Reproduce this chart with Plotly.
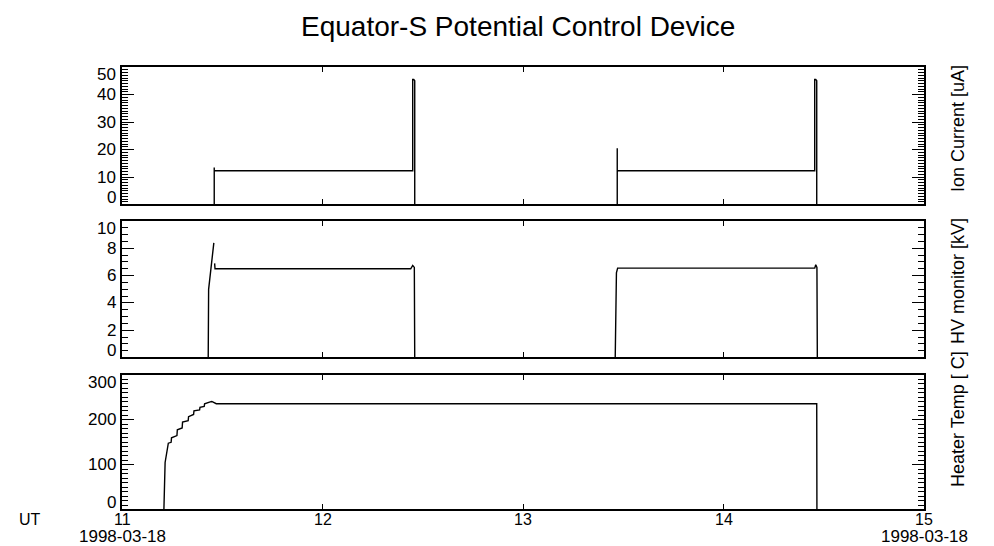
import plotly.graph_objects as go

# ---------------- data ----------------
# Ion current [uA]
ion_t = [11.00, 11.460, 11.460, 11.460, 12.450, 12.450, 12.455, 12.460, 12.460,
         13.470, 13.470, 13.470, 14.455, 14.455, 14.460, 14.465, 14.465, 15.00]
ion_v = [0, 0, 13.5, 12.3, 12.3, 45.5, 45.5, 45.0, 0,
         0, 20.5, 12.3, 12.3, 45.5, 45.5, 45.0, 0, 0]

# HV monitor [kV]
hv_t = [11.00, 11.430, 11.432, 11.458, None, 11.462, 11.464, 12.440, 12.450, 12.458, 12.460,
        13.460, 13.462, 13.466, 13.472, 14.455, 14.460, 14.466, 14.468, 15.00]
hv_v = [0, 0, 5.0, 8.4, None, 6.9, 6.5, 6.5, 6.75, 6.6, 0,
        0, 5.2, 6.2, 6.55, 6.55, 6.8, 6.6, 0, 0]

# Heater temperature [C]
heat_t = [11.00, 11.209, 11.215, 11.229, 11.231, 11.245, 11.247, 11.274, 11.276, 11.300,
          11.302, 11.330, 11.332, 11.357, 11.359, 11.387, 11.389, 11.410, 11.412, 11.440,
          11.448, 11.470, 14.465, 14.466, 15.00]
heat_v = [0, 0, 105, 138, 148, 150, 160, 165, 178, 182,
          195, 198, 207, 212, 220, 222, 228, 230, 236, 240,
          241, 236, 236, 0, 0]

x_ticks = [11, 12, 13, 14, 15]
x_ticktext = ["11", "12", "13", "14", "15"]
date_label = "1998-03-18"

ion_ticks = [0, 10, 20, 30, 40, 50]
hv_ticks = [0, 2, 4, 6, 8, 10]
heat_ticks = [0, 100, 200, 300]

panel_titles = ["Ion Current [uA]", "HV monitor [kV]", "Heater Temp [ C]"]
title = "Equator-S Potential Control Device"

# ---------------- figure ----------------
# page is offset by the default 8px body margin -> figure coords = page coords - 8
OFF = 8
W, H = 994 - OFF, 546 - OFF
ML = 122 - OFF
MR = W - (924 - OFF)
MT = 67 - OFF
MB = H - (509 - OFF)
plot_w = W - ML - MR
plot_h = H - MT - MB


def fy(page_y):
    return (H - MB - (page_y - OFF)) / plot_h


def fx(page_x):
    return ((page_x - OFF) - ML) / plot_w


domains = [
    [fy(204), 1.0],
    [fy(357), fy(221)],
    [0.0, fy(375)],
]

fig = go.Figure()
line = dict(color="black", width=1.4)
fig.add_trace(go.Scatter(x=ion_t, y=ion_v, mode="lines", line=line, xaxis="x", yaxis="y",
                         showlegend=False, connectgaps=False, cliponaxis=False))
fig.add_trace(go.Scatter(x=hv_t, y=hv_v, mode="lines", line=line, xaxis="x2", yaxis="y2",
                         showlegend=False, connectgaps=False, cliponaxis=False))
fig.add_trace(go.Scatter(x=heat_t, y=heat_v, mode="lines", line=line, xaxis="x3", yaxis="y3",
                         showlegend=False, cliponaxis=False))

font_family = "Liberation Sans, Arial, Helvetica, sans-serif"


def xaxis(anchor):
    return dict(
        domain=[0, 1], anchor=anchor, range=[11, 15],
        tickvals=x_ticks, showticklabels=False,
        ticks="inside", ticklen=5, tickwidth=1.2, tickcolor="black",
        showline=True, linecolor="black", linewidth=1.6, mirror="ticks",
        showgrid=False, zeroline=False,
    )


def y_range(top):
    # put the zero level onto the (outside-drawn) bottom axis line
    return [top * 0.6 / 136, top]


def yaxis(anchor, dom, top, ticks, minor_dt):
    return dict(
        domain=dom, anchor=anchor, range=y_range(top), tickvals=ticks, showticklabels=False,
        ticks="inside", ticklen=12, tickwidth=1.2, tickcolor="black",
        minor=dict(ticks="inside", ticklen=6, tickwidth=1, tickcolor="black", dtick=minor_dt,
                   tick0=0, showgrid=False),
        showline=True, linecolor="black", linewidth=1.6, mirror="ticks",
        showgrid=False, zeroline=False,
    )


fig.update_layout(
    width=W, height=H,
    margin=dict(l=ML, r=MR, t=MT, b=MB),
    paper_bgcolor="white", plot_bgcolor="white",
    font=dict(family=font_family, color="black"),
    xaxis=xaxis("y"),
    xaxis2=xaxis("y2"),
    xaxis3=xaxis("y3"),
    yaxis=yaxis("x", domains[0], ion_ticks[-1], ion_ticks, 1),
    yaxis2=yaxis("x2", domains[1], hv_ticks[-1], hv_ticks, 0.5),
    yaxis3=yaxis("x3", domains[2], heat_ticks[-1], heat_ticks, 10),
)

ann = []
tickfont = dict(family=font_family, size=17, color="black")


def add_ylabels(yref, vals):
    lo, hi = y_range(vals[-1])
    n = len(vals)
    for i, v in enumerate(vals):
        shift = 0
        if i == 0:
            shift = 7
        elif i == n - 1:
            shift = -7
        ann.append(dict(x=0, xref="paper", y=(v - lo) / (hi - lo), yref=yref + " domain",
                        text=str(v), showarrow=False,
                        xanchor="right", yanchor="middle", xshift=-4, yshift=shift,
                        font=tickfont))


add_ylabels("y", ion_ticks)
add_ylabels("y2", hv_ticks)
add_ylabels("y3", heat_ticks)

# x tick labels
for xv, txt in zip(x_ticks, x_ticktext):
    ann.append(dict(x=xv, xref="x3", y=fy(520), yref="paper", text=txt,
                    showarrow=False, xanchor="center", yanchor="middle",
                    font=dict(family=font_family, size=16, color="black")))

# dates under first and last x tick
for xv in (x_ticks[0], x_ticks[-1]):
    ann.append(dict(x=xv, xref="x3", y=fy(536.5), yref="paper", text=date_label,
                    showarrow=False, xanchor="center", yanchor="middle",
                    font=dict(family=font_family, size=17, color="black")))

ann.append(dict(x=fx(30), xref="paper", y=fy(520), yref="paper",
                text="UT", showarrow=False, xanchor="center", yanchor="middle",
                font=dict(family=font_family, size=16, color="black")))

# right-hand panel titles
for txt, py in zip(panel_titles, [128, 281, 419]):
    ann.append(dict(x=fx(958), xref="paper", y=fy(py), yref="paper", text=txt, textangle=-90,
                    showarrow=False, xanchor="center", yanchor="middle",
                    font=dict(family=font_family, size=18, color="black")))

ann.append(dict(x=fx(518), xref="paper", y=fy(26), yref="paper", text=title, showarrow=False,
                xanchor="center", yanchor="middle",
                font=dict(family=font_family, size=28, color="black")))

fig.update_layout(annotations=ann)
fig.write_html("out.html")
